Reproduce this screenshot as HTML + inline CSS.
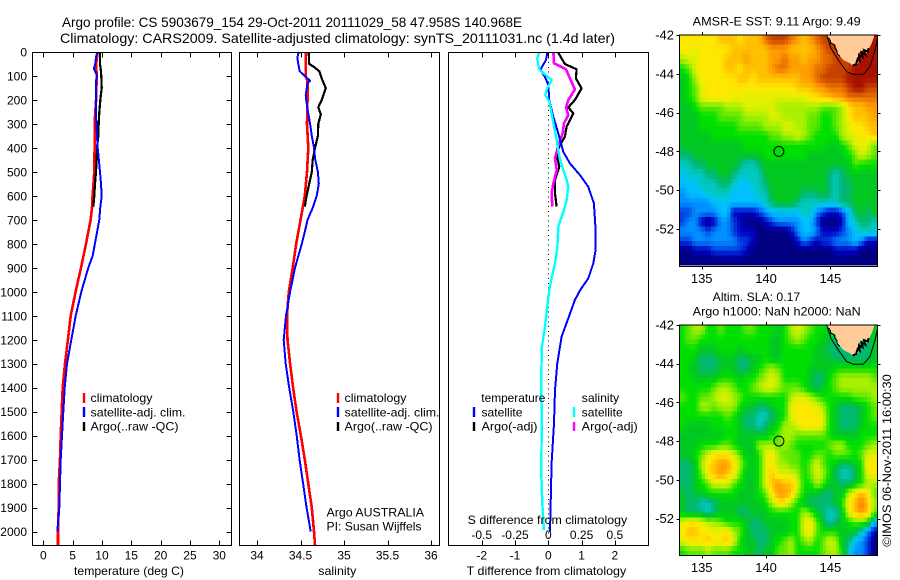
<!DOCTYPE html>
<html lang="en">
<head>
<meta charset="utf-8">
<title>Argo profile 5903679_154</title>
<style>
html,body{margin:0;padding:0;background:#fff;}
svg{display:block;}
text{font-family:"Liberation Sans",sans-serif;fill:#000;}
.t12{font-size:12px;}
.t13{font-size:13px;}
.t14{font-size:14px;}
</style>
</head>
<body>
<svg id="chart" width="900" height="580" viewBox="0 0 900 580" xmlns="http://www.w3.org/2000/svg">
<rect x="0" y="0" width="900" height="580" fill="#fff"/>
<text class="t14" x="62" y="27" textLength="460" lengthAdjust="spacingAndGlyphs">Argo profile: CS 5903679_154 29-Oct-2011 20111029_58 47.958S 140.968E</text>
<text class="t14" x="60" y="43" textLength="555" lengthAdjust="spacingAndGlyphs">Climatology: CARS2009. Satellite-adjusted climatology: synTS_20111031.nc (1.4d later)</text>

<g id="temperature-panel"></g>
<g id="salinity-panel"></g>
<g id="difference-panel"></g>
<g id="sst-map"></g>
<g id="sla-map"></g>

<g>
<line x1="84" x2="84" y1="393" y2="403" stroke="#ff0000" stroke-width="2.4"/>
<line x1="84" x2="84" y1="407" y2="417" stroke="#0000ff" stroke-width="2.4"/>
<line x1="84" x2="84" y1="422" y2="431" stroke="#000" stroke-width="2.4"/>
<text class="t12" x="90.5" y="402" textLength="62" lengthAdjust="spacingAndGlyphs">climatology</text>
<text class="t12" x="90.5" y="416.5" textLength="95" lengthAdjust="spacingAndGlyphs">satellite-adj. clim.</text>
<text class="t12" x="90.5" y="430.5" textLength="88" lengthAdjust="spacingAndGlyphs">Argo(..raw -QC)</text>
</g>
<g>
<line x1="338" x2="338" y1="393" y2="403" stroke="#ff0000" stroke-width="2.4"/>
<line x1="338" x2="338" y1="407" y2="417" stroke="#0000ff" stroke-width="2.4"/>
<line x1="338" x2="338" y1="422" y2="431" stroke="#000" stroke-width="2.4"/>
<text class="t12" x="344.5" y="402" textLength="62" lengthAdjust="spacingAndGlyphs">climatology</text>
<text class="t12" x="344.5" y="416.5" textLength="95" lengthAdjust="spacingAndGlyphs">satellite-adj. clim.</text>
<text class="t12" x="344.5" y="430.5" textLength="88" lengthAdjust="spacingAndGlyphs">Argo(..raw -QC)</text>
<text class="t12" x="326.5" y="516.7" textLength="97.5" lengthAdjust="spacingAndGlyphs">Argo AUSTRALIA</text>
<text class="t12" x="326.5" y="530.7" textLength="95" lengthAdjust="spacingAndGlyphs">PI: Susan Wijffels</text>
</g>
<g>
<text class="t12" x="481.3" y="402" textLength="64" lengthAdjust="spacingAndGlyphs">temperature</text>
<line x1="474" x2="474" y1="407" y2="417" stroke="#0000ff" stroke-width="2.4"/>
<line x1="474" x2="474" y1="422" y2="431" stroke="#000" stroke-width="2.4"/>
<text class="t12" x="481.5" y="416.5" textLength="41" lengthAdjust="spacingAndGlyphs">satellite</text>
<text class="t12" x="481.5" y="430.5" textLength="56" lengthAdjust="spacingAndGlyphs">Argo(-adj)</text>
<text class="t12" x="581.7" y="402" textLength="37.5" lengthAdjust="spacingAndGlyphs">salinity</text>
<line x1="574" x2="574" y1="407" y2="417" stroke="#00ffff" stroke-width="2.4"/>
<line x1="574" x2="574" y1="422" y2="431" stroke="#ff00ff" stroke-width="2.4"/>
<text class="t12" x="581.7" y="416.5" textLength="41" lengthAdjust="spacingAndGlyphs">satellite</text>
<text class="t12" x="581.7" y="430.5" textLength="56" lengthAdjust="spacingAndGlyphs">Argo(-adj)</text>
<text class="t12" x="467.7" y="524" textLength="159.5" lengthAdjust="spacingAndGlyphs">S difference from climatology</text>
</g>
<text class="t12" x="74" y="575" textLength="110" lengthAdjust="spacingAndGlyphs">temperature (deg C)</text>
<text class="t12" x="318.3" y="575" textLength="38" lengthAdjust="spacingAndGlyphs">salinity</text>
<text class="t12" x="466.7" y="575" textLength="159.5" lengthAdjust="spacingAndGlyphs">T difference from climatology</text>

<text class="t12" x="692.7" y="25.3" textLength="168" lengthAdjust="spacingAndGlyphs">AMSR-E SST: 9.11 Argo: 9.49</text>
<text class="t12" x="712.7" y="301" textLength="87.5" lengthAdjust="spacingAndGlyphs">Altim. SLA: 0.17</text>
<text class="t12" x="692.7" y="315.3" textLength="168" lengthAdjust="spacingAndGlyphs">Argo h1000: NaN h2000: NaN</text>
<text class="t12" transform="translate(891,546.7) rotate(-90)" x="0" y="0" textLength="172.5" lengthAdjust="spacingAndGlyphs">©IMOS 06-Nov-2011 16:00:30</text>
</svg>

<script>
// ---- profile data (depth in m) ----
const tClimDepth = [0,50,100,200,275,300,500,600,650,700,800,900,1000,1100,1200,1300,1400,1500,1600,1700,1800,1900,2000,2057];
const tClimValue = [9.27,9.0,9.1,9.0,8.8,8.8,8.7,8.4,8.3,8.07,7.28,6.43,5.5,4.67,4.2,3.7,3.3,3.13,2.97,2.85,2.62,2.62,2.5,2.5];
const tSatDepth = [0,20,50,70,80,100,120,200,300,400,500,550,600,650,700,800,850,900,1000,1100,1200,1300,1400,1500,1600,1700,1800,1900,2000];
const tSatValue = [9.2,9.0,8.85,8.6,8.85,9.15,8.98,8.98,9.04,9.27,9.66,9.83,9.95,9.7,9.55,8.8,8.42,7.67,6.48,5.52,4.78,4.04,3.65,3.41,3.19,2.97,2.85,2.73,2.39];
const tArgoDepth = [0,50,70,100,150,200,250,300,350,400,450,500,550,600,645];
const tArgoValue = [9.66,9.66,9.78,9.89,9.95,9.72,9.55,9.44,9.38,9.15,9.1,8.98,8.81,8.7,8.53];

const sClimDepth = [0,100,120,200,300,400,500,600,650,700,800,900,1000,1100,1200,1300,1400,1500,1600,1700,1800,1900,2000,2057];
const sClimValue = [34.56,34.56,34.58,34.58,34.575,34.59,34.575,34.55,34.525,34.5,34.45,34.41,34.365,34.345,34.35,34.38,34.415,34.455,34.505,34.55,34.59,34.63,34.655,34.667];
const sSatDepth = [0,10,30,60,80,100,120,130,180,200,250,300,350,400,450,500,550,600,650,700,750,800,900,1000,1100,1200,1300,1400,1500,1600,1700,1800,1900,2000];
const sSatValue = [34.49,34.47,34.465,34.48,34.49,34.55,34.61,34.58,34.56,34.565,34.586,34.61,34.63,34.655,34.67,34.7,34.71,34.686,34.64,34.58,34.55,34.515,34.437,34.38,34.333,34.307,34.33,34.37,34.417,34.456,34.49,34.53,34.57,34.617];
const sArgoDepth = [0,50,60,80,110,150,200,230,260,300,350,400,450,500,550,600,645];
const sArgoValue = [34.594,34.6,34.647,34.716,34.744,34.79,34.744,34.705,34.733,34.705,34.7,34.667,34.64,34.63,34.6,34.57,34.55];

const dtSatDepth = [3,33,72,113,138,200,270,339,416,464,513,562,631,742,826,881,944,990,1034,1111,1187,1298,1409,1548,1715,1896,2000];
const dtSatValue = [-0.03,-0.07,-0.23,-0.07,0,0.03,0.15,0.3,0.45,0.65,0.95,1.2,1.37,1.42,1.42,1.35,1.2,0.97,0.8,0.6,0.4,0.27,0.2,0.17,0.1,0.07,0.05];
const dsSatDepth = [3,27,72,117,152,179,207,297,367,436,485,534,562,617,659,728,812,881,944,990,1062,1145,1229,1354,1479,1618,1743,1882,1993];
const dsSatValue = [-0.068,-0.083,-0.068,0.025,-0.008,-0.023,0.008,0.038,0.063,0.083,0.108,0.138,0.15,0.138,0.118,0.075,0.068,0.05,0.025,0.008,-0.008,-0.025,-0.048,-0.053,-0.05,-0.05,-0.053,-0.045,-0.033];
const dtArgoDepth = [3,27,50,72,110,152,200,231,256,311,353,388,429,478,534,589,645];
const dtArgoValue = [0.3,0.4,0.5,0.85,0.83,1.0,0.8,0.6,0.75,0.55,0.5,0.35,0.25,0.33,0.2,0.2,0.25];
const dsArgoDepth = [3,47,72,117,156,200,231,263,297,339,388,443,492,548,589,645];
const dsArgoValue = [0.038,0.043,0.133,0.168,0.2,0.15,0.133,0.15,0.118,0.108,0.075,0.05,0.063,0.038,0.025,0.03];

// ---- tick labels ----
const depthTicks = [0,100,200,300,400,500,600,700,800,900,1000,1100,1200,1300,1400,1500,1600,1700,1800,1900,2000];
const temperatureTicks = [0,5,10,15,20,25,30];
const salinityTicks = [34,34.5,35,35.5,36];
const tDiffTicks = [-2,-1,0,1,2];
const sDiffTicks = [-0.5,-0.25,0,0.25,0.5];
const lonTicks = [135,140,145];
const latTicks = [-42,-44,-46,-48,-50,-52];
const profileLon = [141];
const profileLat = [-48];

// ---- map colour levels ----
const mapPalette = ["#000080","#0000c0","#0040e0","#0090ff","#00c0ff","#00c8c0","#00b870","#00c820","#00e000","#60e800","#a8f000","#e0f000","#ffe800","#ffc000","#ff9c00","#e87000","#c84000","#a81000"];

// SST map cells, north to south (0 = coldest, 17 = warmest)
const sstGrid = [
[12,12,12,12,12,12,13,13,13,12,13,13,13,15,16,16,16,15,14,13,14,15,16,16,17,17,17,17,17,17,17],
[12,12,11,12,12,12,12,12,13,13,13,13,13,13,14,14,14,13,13,13,13,14,15,16,16,17,17,17,17,17,17],
[10,11,11,12,12,12,12,13,13,13,14,13,13,13,14,14,15,14,14,13,14,14,15,15,16,16,16,17,17,17,17],
[8,9,11,12,12,12,12,13,13,12,13,13,13,13,14,15,15,14,14,14,14,15,15,16,16,16,16,17,17,17,17],
[7,8,10,12,12,12,12,12,12,13,13,12,13,13,13,13,13,13,13,14,14,15,16,16,16,16,17,17,17,17,17],
[7,8,9,11,12,12,12,12,12,12,12,12,12,12,12,12,12,12,13,13,13,14,14,15,15,15,16,17,17,16,16],
[7,8,9,11,12,12,12,12,11,12,11,11,11,11,11,11,11,11,11,11,12,12,13,13,14,14,15,15,15,15,15],
[7,7,8,9,9,9,9,10,10,10,11,11,11,11,11,10,10,10,10,10,10,10,9,9,9,10,12,13,13,14,14],
[7,7,7,8,8,8,9,9,9,9,10,10,10,10,11,11,10,10,10,10,9,9,8,8,9,10,12,13,13,13,14],
[7,7,7,8,8,8,8,8,8,9,9,9,9,10,10,10,11,11,10,10,9,9,8,8,9,10,11,12,12,13,13],
[7,7,7,7,7,8,8,8,8,8,8,8,8,8,9,9,10,10,11,10,9,8,8,8,8,10,11,11,12,12,13],
[7,7,7,7,7,7,7,7,7,7,8,8,8,8,8,8,8,8,8,8,8,8,8,7,7,8,9,11,11,11,9],
[6,6,7,7,7,7,7,7,7,7,7,7,7,8,8,8,8,8,8,8,7,7,7,7,7,7,8,9,11,10,9],
[5,5,6,6,7,7,7,7,7,6,5,5,6,7,7,7,7,7,7,7,7,7,7,7,7,7,7,9,8,8,8],
[4,5,5,5,6,6,7,7,6,5,5,5,5,7,7,7,7,7,7,7,7,7,7,6,5,6,7,7,7,7,7],
[4,4,4,5,5,5,6,6,5,4,4,5,5,6,7,7,7,7,7,7,7,7,7,6,5,6,6,7,7,7,7],
[3,4,4,4,5,5,5,5,4,4,4,4,5,5,7,7,7,7,7,6,6,6,7,6,5,6,6,7,7,7,7],
[3,3,3,3,3,4,4,4,4,4,4,4,4,5,6,7,7,7,6,5,5,5,5,5,5,6,6,7,7,7,7],
[2,2,3,3,3,3,4,4,1,1,1,1,2,3,4,4,4,4,4,5,5,3,2,1,1,2,4,6,7,6,7],
[2,3,3,1,0,1,3,3,2,1,0,0,0,1,2,3,3,3,3,4,4,2,0,0,0,1,4,5,6,6,5],
[3,3,3,3,2,3,3,3,2,1,1,1,0,0,0,0,0,1,3,4,4,3,1,1,1,2,3,4,5,5,5],
[2,2,3,3,3,3,3,3,3,2,2,1,0,0,0,0,0,0,1,3,2,1,2,2,3,3,3,4,3,1,1],
[0,0,1,1,1,2,2,2,2,2,1,0,0,0,0,0,0,0,0,0,0,0,0,0,1,1,1,1,0,0,0],
[0,0,0,0,0,0,0,0,0,0,0,0,0,0,0,0,0,0,0,0,0,0,0,0,0,0,0,0,0,0,0]
];

// Sea level anomaly map cells, north to south
const slaGrid = [
[8,9,10,10,8,8,9,8,8,8,9,9,8,8,8,7,8,10,11,10,9,8,8,7,7,7,7,7,7,7,7],
[8,9,9,8,8,8,8,8,8,8,8,8,8,8,7,7,8,9,10,9,8,8,7,7,6,6,6,6,6,6,7],
[8,8,8,7,7,7,8,8,8,7,8,8,8,8,7,7,8,8,8,8,8,7,7,6,6,6,6,6,6,6,7],
[8,8,7,6,6,6,7,7,7,6,6,7,7,8,7,7,8,8,8,8,8,7,7,7,6,6,6,6,6,6,7],
[8,7,7,6,6,6,7,7,7,6,6,7,8,9,10,9,8,8,8,8,7,7,7,7,8,8,8,8,8,8,8],
[8,8,7,7,7,7,8,8,8,7,8,8,9,10,11,10,8,8,8,8,7,6,6,8,9,10,10,10,10,10,9],
[8,8,8,8,8,9,10,10,9,8,8,9,10,11,11,10,9,9,9,8,7,6,7,8,9,10,10,10,10,10,10],
[9,8,8,9,9,10,11,11,10,9,8,8,8,8,8,8,8,10,11,11,10,9,8,8,8,8,8,9,9,9,10],
[8,8,8,10,10,9,10,10,10,8,7,7,6,6,7,8,8,11,12,12,12,11,10,8,7,6,6,6,7,8,9],
[8,8,8,8,8,8,8,9,8,7,6,6,5,5,6,7,8,11,12,12,12,12,11,8,7,6,6,6,7,8,9],
[8,7,7,7,7,8,8,8,8,7,6,6,5,6,7,8,10,10,11,12,12,12,11,8,7,6,6,6,7,8,8],
[7,7,7,7,7,7,7,8,8,7,7,7,7,7,8,9,10,10,9,9,9,9,9,8,7,7,7,7,8,8,8],
[7,7,7,8,8,8,9,9,8,7,7,7,10,10,10,9,10,9,8,8,8,8,8,9,10,10,8,8,8,9,10],
[7,7,8,9,11,12,12,12,11,9,7,7,8,11,12,10,9,9,9,8,8,9,9,8,9,9,9,8,9,11,11],
[6,6,7,10,12,13,14,14,12,10,8,7,8,11,12,10,10,9,9,8,9,11,9,8,7,6,6,7,8,12,12],
[6,6,7,9,12,13,14,13,12,9,7,7,8,11,13,11,11,11,10,8,9,11,10,8,6,5,5,6,8,11,12],
[6,6,7,8,9,11,11,11,9,8,7,7,8,11,13,14,13,13,11,8,8,10,9,7,7,6,6,7,8,10,10],
[7,6,7,7,8,8,8,8,8,7,7,7,8,9,12,14,14,13,10,8,7,7,6,6,7,7,10,12,13,12,9],
[7,6,6,5,5,6,7,7,7,7,7,7,7,8,10,12,12,10,8,7,6,6,6,6,7,8,12,13,15,13,10],
[7,6,6,6,5,6,7,7,7,6,6,7,7,7,8,8,8,8,8,10,9,7,6,5,5,7,11,13,14,13,9],
[11,12,12,11,10,10,9,8,8,8,7,6,6,7,7,7,7,8,8,11,12,9,7,5,6,7,8,9,9,8,4],
[12,13,13,12,12,11,12,12,10,9,7,6,6,6,7,7,7,8,8,11,12,9,8,8,8,7,7,7,5,3,1],
[11,12,12,12,13,12,12,13,11,8,7,7,6,6,7,8,9,10,8,9,10,8,9,11,10,7,6,4,3,2,0],
[8,9,9,9,10,9,9,9,8,8,7,7,6,7,7,9,9,10,8,8,8,8,9,10,10,8,5,3,3,2,0]
];

// Tasmania coast and shelf contour, lon / lat
const coastLon = [144.71,145.02,145.41,145.57,146.0,146.52,146.78,147.17,147.17,147.56,147.82,148.21,148.39,148.39];
const coastLat = [-42,-42.35,-42.52,-42.94,-43.29,-43.46,-43.63,-43.46,-42.94,-42.77,-42.94,-42.43,-42.09,-42];
const shelfLon = [144.71,145.05,145.61,146.27,146.78,147.56,148.08,148.47,148.64];
const shelfLat = [-42,-42.69,-43.29,-43.89,-44.03,-44.03,-43.63,-42.77,-42.26];
const jagLon = [146.72,147.0,147.12,147.28,147.22,147.5,147.42,147.72,147.62,147.92,147.95];
const jagLat = [-43.58,-43.5,-43.22,-43.32,-43.05,-43.15,-42.9,-43.02,-42.78,-42.85,-42.68];
const westJagLon = [144.85,145.02,145.0,145.3,145.35,145.5,145.55,145.75];
const westJagLat = [-42.15,-42.3,-42.42,-42.5,-42.7,-42.78,-43.0,-43.1];

const NS = "http://www.w3.org/2000/svg";
function node(parent, tag, attrs, label){
  const el = document.createElementNS(NS, tag);
  for (const k in attrs) el.setAttribute(k, attrs[k]);
  if (label !== undefined) el.textContent = label;
  parent.appendChild(el);
  return el;
}

// ---- axis functions ----
const panelTop = 52.5, panelBottom = 545.5;
function yDepth(d){ return 52 + d * 0.2398; }
function xTemp(v){ return 43.3 + v * 5.867; }
function xSal(v){ return 257 + (v - 34) * 87; }
function xDT(v){ return 548.3 + v * 33.3; }
function xDS(v){ return 548.3 + v * 133.2; }

function frame(group, x1, x2){
  const f = node(group, "rect", {x:x1, y:panelTop, width:x2-x1, height:panelBottom-panelTop, fill:"none", stroke:"#000", "stroke-width":1, "shape-rendering":"crispEdges"});
  
  
}
function xTicks(group, ticks, xf, labelY, name){
  ticks.forEach(function(v){
    const x = Math.round(xf(v)) + 0.5;
    const top = node(group, "line", {x1:x, x2:x, y1:panelTop, y2:panelTop+5, stroke:"#000", "shape-rendering":"crispEdges"});
    
    
    const bot = node(group, "line", {x1:x, x2:x, y1:panelBottom-5, y2:panelBottom, stroke:"#000", "shape-rendering":"crispEdges"});
    
    
    const t = node(group, "text", {x:xf(v), y:labelY, "text-anchor":"middle", "class":"t12"}, String(v));
    
    
  });
}
function curve(group, xs, ds, xf, color, width, name){
  const pts = xs.map(function(v, i){ return xf(v).toFixed(1) + "," + yDepth(ds[i]).toFixed(1); }).join(" ");
  const p = node(group, "polyline", {points:pts, fill:"none", stroke:color, "stroke-width":width, "stroke-linejoin":"round", "shape-rendering":"crispEdges"});
  
  
}

// ---- temperature panel ----
const tp = document.getElementById("temperature-panel");
curve(tp, tClimValue, tClimDepth, xTemp, "#ff0000", 2.6, "temperature-climatology-line");
curve(tp, tArgoValue, tArgoDepth, xTemp, "#000000", 2.2, "temperature-argo-line");
curve(tp, tSatValue, tSatDepth, xTemp, "#0000ff", 2, "temperature-satellite-line");
frame(tp, 32.5, 231.5);
xTicks(tp, temperatureTicks, xTemp, 559.3, "temperature-axis");
depthTicks.forEach(function(d){
  const y = Math.round(yDepth(d)) + 0.5;
  const l = node(tp, "line", {x1:32.5, x2:37.5, y1:y, y2:y, stroke:"#000", "shape-rendering":"crispEdges"});
  
  
  const r = node(tp, "line", {x1:226.5, x2:231.5, y1:y, y2:y, stroke:"#000", "shape-rendering":"crispEdges"});
  
  
  const t = node(tp, "text", {x:27, y:yDepth(d)+4.5, "text-anchor":"end", "class":"t12"}, String(d));
  
  
});

// ---- salinity panel ----
const sp = document.getElementById("salinity-panel");
curve(sp, sClimValue, sClimDepth, xSal, "#ff0000", 2.6, "salinity-climatology-line");
curve(sp, sArgoValue, sArgoDepth, xSal, "#000000", 2.2, "salinity-argo-line");
curve(sp, sSatValue, sSatDepth, xSal, "#0000ff", 2, "salinity-satellite-line");
frame(sp, 239.5, 439.5);
xTicks(sp, salinityTicks, xSal, 559.3, "salinity-axis");

// ---- difference panel ----
const dp = document.getElementById("difference-panel");
const zero = node(dp, "line", {x1:548.5, x2:548.5, y1:panelTop, y2:panelBottom, stroke:"#000", "stroke-width":1, "stroke-dasharray":"1 3.8", "shape-rendering":"crispEdges"});


curve(dp, dtArgoValue, dtArgoDepth, xDT, "#000000", 2.2, "t-difference-argo-line");
curve(dp, dsArgoValue, dsArgoDepth, xDS, "#ff00ff", 2.6, "s-difference-argo-line");
curve(dp, dtSatValue, dtSatDepth, xDT, "#0000ff", 2, "t-difference-satellite-line");
curve(dp, dsSatValue, dsSatDepth, xDS, "#00ffff", 2.4, "s-difference-satellite-line");
frame(dp, 448.5, 648.5);
xTicks(dp, tDiffTicks, xDT, 559.3, "t-difference-axis");
sDiffTicks.forEach(function(v){
  const t = node(dp, "text", {x:xDS(v), y:539, "text-anchor":"middle", "class":"t12"}, String(v));
  
  
});

// ---- maps ----
function hexRGB(h){ return [parseInt(h.substr(1,2),16), parseInt(h.substr(3,2),16), parseInt(h.substr(5,2),16)]; }
function levelColor(level){
  const a = Math.max(0, Math.min(mapPalette.length - 1, level));
  const i = Math.min(mapPalette.length - 2, Math.floor(a));
  const f = a - i;
  const c0 = hexRGB(mapPalette[i]), c1 = hexRGB(mapPalette[i + 1]);
  return "rgb(" + [0,1,2].map(function(k){ return Math.round(c0[k] + (c1[k] - c0[k]) * f); }).join(",") + ")";
}
function sampleGrid(grid, gx, gy){
  const nR = grid.length, nC = grid[0].length;
  const x = Math.max(0, Math.min(nC - 1, gx)), y = Math.max(0, Math.min(nR - 1, gy));
  const x0 = Math.floor(x), y0 = Math.floor(y);
  const x1 = Math.min(nC - 1, x0 + 1), y1 = Math.min(nR - 1, y0 + 1);
  const fx = x - x0, fy = y - y0;
  return (grid[y0][x0] * (1 - fx) + grid[y0][x1] * fx) * (1 - fy) + (grid[y1][x0] * (1 - fx) + grid[y1][x1] * fx) * fy;
}
function drawMap(id, grid, cfg, name){
  const g = document.getElementById(id);
  function xLon(v){ return 701.7 + (v - 135) * 12.87; }
  function yLat(v){ return cfg.top + (-42 - v) * cfg.scale; }
  const sub = 2;
  const nR = grid.length * sub, nC = grid[0].length * sub;
  const left = 679.3, right = 877.3;
  const cw = (right - left) / nC, ch = (cfg.dataBottom - cfg.top) / nR;
  for (let r = 0; r < nR; r++){
    for (let c = 0; c < nC; c++){
      const level = sampleGrid(grid, (c + 0.5) / sub - 0.5, (r + 0.5) / sub - 0.5);
      const cell = node(g, "rect", {
        x:(left + c * cw).toFixed(2), y:(cfg.top + r * ch).toFixed(2),
        width:(cw + 0.4).toFixed(2), height:(ch + 0.4).toFixed(2),
        fill:levelColor(level), "shape-rendering":"crispEdges"});
      
      
    }
  }
  function path(lons, lats){ return lons.map(function(v, i){ return xLon(v).toFixed(1) + "," + yLat(lats[i]).toFixed(1); }).join(" "); }
  const land = node(g, "polygon", {points:path(coastLon, coastLat), fill:"#ffcc99"});
  
  
  const j1 = node(g, "polyline", {points:path(jagLon, jagLat), fill:"none", stroke:"#000", "stroke-width":2, "shape-rendering":"crispEdges"});
  
  
  const j2 = node(g, "polyline", {points:path(westJagLon, westJagLat), fill:"none", stroke:"#000", "stroke-width":1, "shape-rendering":"crispEdges"});
  
  
  const shelf = node(g, "polyline", {points:path(shelfLon, shelfLat), fill:"none", stroke:"#000", "stroke-width":1});
  
  
  const box = node(g, "rect", {x:679.5, y:cfg.top, width:198, height:cfg.bottom-cfg.top, fill:"none", stroke:"#000", "shape-rendering":"crispEdges"});
  
  
  lonTicks.forEach(function(v){
    const x = Math.round(xLon(v)) + 0.5;
    const a = node(g, "line", {x1:x, x2:x, y1:cfg.top-3, y2:cfg.top, stroke:"#000", "shape-rendering":"crispEdges"});
    
    
    const b = node(g, "line", {x1:x, x2:x, y1:cfg.bottom, y2:cfg.bottom+3, stroke:"#000", "shape-rendering":"crispEdges"});
    
    
    const t = node(g, "text", {x:xLon(v), y:cfg.bottom+16.5, "text-anchor":"middle", "class":"t13"}, String(v));
    
    
  });
  latTicks.forEach(function(v){
    const y = Math.round(yLat(v)) + 0.5;
    const a = node(g, "line", {x1:676.5, x2:679.5, y1:y, y2:y, stroke:"#000", "shape-rendering":"crispEdges"});
    
    
    const b = node(g, "line", {x1:877.5, x2:880.5, y1:y, y2:y, stroke:"#000", "shape-rendering":"crispEdges"});
    
    
    const t = node(g, "text", {x:674, y:yLat(v)+4.5, "text-anchor":"end", "class":"t13"}, String(v));
    
    
  });
  const m = node(g, "circle", {cx:xLon(profileLon[0]), cy:yLat(profileLat[0]), r:5, fill:"none", stroke:"#000", "stroke-width":1});
  
  
}
drawMap("sst-map", sstGrid, {top:35, scale:19.4, dataBottom:265, bottom:266.7}, "sst-map");
drawMap("sla-map", slaGrid, {top:325, scale:19.35, dataBottom:555.7, bottom:555.7}, "sla-map");
</script>
</body>
</html>
